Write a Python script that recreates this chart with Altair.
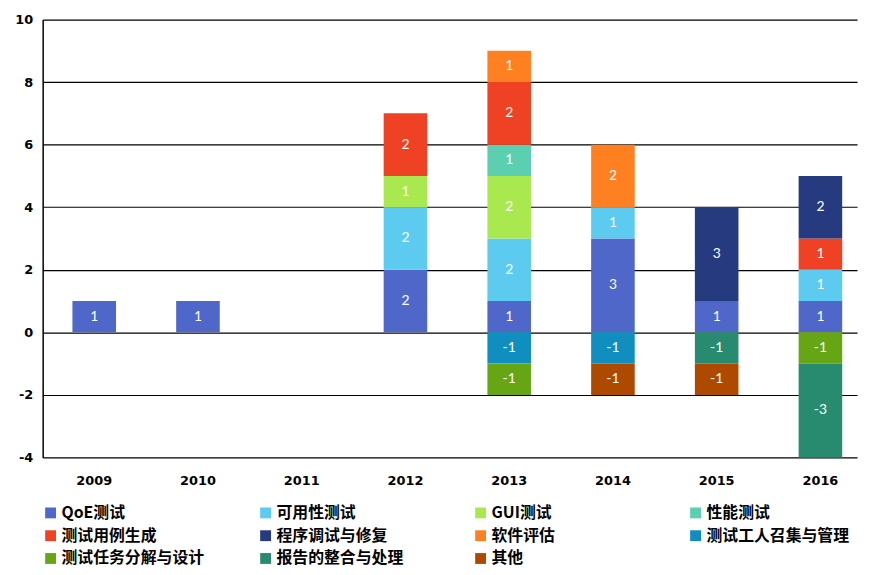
import altair as alt
import pandas as pd

years = ["2009", "2010", "2011", "2012", "2013", "2014", "2015", "2016"]
categories = ["QoE测试", "可用性测试", "GUI测试", "性能测试",
              "测试用例生成", "程序调试与修复", "软件评估", "测试工人召集与管理",
              "测试任务分解与设计", "报告的整合与处理", "其他"]
colors = ["#4F67C8", "#5DCBF0", "#A9E94F", "#5CCFB0",
          "#EF4123", "#263A80", "#FF8020", "#108EBF",
          "#66A615", "#288A6E", "#AD4A00"]

qoe      = [1, 1, 0, 2, 1, 3, 1, 1]
usab     = [0, 0, 0, 2, 2, 1, 0, 1]
gui      = [0, 0, 0, 1, 2, 0, 0, 0]
perf     = [0, 0, 0, 0, 1, 0, 0, 0]
casegen  = [0, 0, 0, 2, 2, 0, 0, 1]
debug    = [0, 0, 0, 0, 0, 0, 3, 2]
evalu    = [0, 0, 0, 0, 1, 2, 0, 0]
workers  = [0, 0, 0, 0, -1, -1, 0, 0]
taskdes  = [0, 0, 0, 0, -1, 0, 0, -1]
reports  = [0, 0, 0, 0, 0, 0, -1, -3]
other    = [0, 0, 0, 0, 0, -1, -1, 0]

series = [qoe, usab, gui, perf, casegen, debug, evalu, workers, taskdes, reports, other]

rows = []
for i, (cat, vals) in enumerate(zip(categories, series)):
    for y, v in zip(years, vals):
        if v != 0:
            rows.append({"year": y, "cat": cat, "idx": i, "value": v})
df = pd.DataFrame(rows)

base = alt.Chart(df).transform_stack(
    stack="value", groupby=["year"], as_=["y0", "y1"],
    sort=[alt.SortField("idx", order="ascending")]
).transform_calculate(mid="(datum.y0 + datum.y1) / 2", lab="'' + datum.value")

xscale = alt.Scale(domain=years, paddingInner=0.58, paddingOuter=0.215, align=0.667)
xenc = alt.X("year:N", scale=xscale,
             axis=alt.Axis(title=None, domain=False, ticks=False, labelAngle=0,
                           labelPadding=17, labelFont="DejaVu Sans", labelFontWeight="bold",
                           labelFontSize=13, labelColor="black", grid=False))
yscale = alt.Scale(domain=[-4, 10], nice=False)

bars = base.mark_bar().encode(
    x=xenc,
    y=alt.Y("y0:Q", scale=yscale,
            axis=alt.Axis(title=None, values=[-4, -2, 0, 2, 4, 6, 8, 10], grid=True,
                          gridColor="black", gridOpacity=1, gridWidth=1.2,
                          domainColor="black", domainWidth=1.5, ticks=False,
                          labelExpr="'' + datum.value",
                          labelPadding=10, labelFont="DejaVu Sans", labelFontWeight="bold",
                          labelFontSize=13, labelColor="black")),
    y2="y1:Q",
    color=alt.Color("cat:N", scale=alt.Scale(domain=categories, range=colors),
                    legend=alt.Legend(title=None, orient="none", legendX=0, legendY=490,
                                      columns=4, direction="horizontal", gridAlign="all",
                                      columnPadding=53, rowPadding=7,
                                      symbolType="square", symbolSize=120,
                                      symbolStrokeWidth=0, symbolOpacity=1,
                                      labelFont="Noto Sans CJK SC", labelFontWeight="bold",
                                      labelFontSize=16, labelColor="black", labelLimit=300,
                                      labelOffset=3)),
)

labels = base.mark_text(color="white", fontSize=14, font="Lato", baseline="middle").encode(
    x=alt.X("year:N", scale=xscale),
    y=alt.Y("mid:Q", scale=yscale),
    text=alt.Text("lab:N"),
)

chart = alt.layer(bars, labels).properties(
    width=822, height=442,
    autosize=alt.AutoSizeParams(type="none"),
    padding={"left": 35, "top": 9, "right": 6, "bottom": 114},
).configure(background="white").configure_view(stroke=None)

chart.save("out.html", embed_options={"renderer": "svg", "actions": False})
